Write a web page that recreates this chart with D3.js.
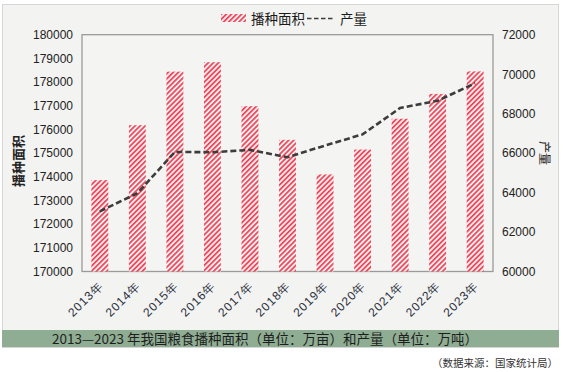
<!DOCTYPE html>
<html>
<head>
<meta charset="utf-8">
<script src="https://cdn.jsdelivr.net/npm/d3@7"></script>
<style>
  body { margin: 0; background: #fff; }
  svg text { font-family: "Liberation Sans", Arial, sans-serif; }
  .cjk { font-family: "Noto Sans CJK SC", "Noto Sans", sans-serif; }
</style>
</head>
<body>
<div id="chart"></div>
<script>
// data
const years = ['2013年','2014年','2015年','2016年','2017年','2018年','2019年','2020年','2021年','2022年','2023年']
const area = [173860, 176180, 178440, 178840, 176980, 175560, 174100, 175150, 176450, 177500, 178450]   // 万亩
const output = [63048, 63965, 66060, 66044, 66161, 65789, 66384, 66949, 68285, 68653, 69541]        // 万吨
const leftTicks = [170000,171000,172000,173000,174000,175000,176000,177000,178000,179000,180000]
const rightTicks = [60000,62000,64000,66000,68000,70000,72000]

const W = 563, H = 372
const plot = {left: 82, right: 493, top: 34.7, bottom: 271.5}

let svg = d3.select('#chart').append('svg')
    .attr('width', W)
    .attr('height', H)

// hatch pattern for bars
let defs = svg.append('defs')
let pat = defs.append('pattern')
    .attr('id', 'hatch')
    .attr('patternUnits', 'userSpaceOnUse')
    .attr('width', 3.6)
    .attr('height', 3.6)
    .attr('patternTransform', 'rotate(45)')
pat.append('rect').attr('width', 3.6).attr('height', 3.6).attr('fill', '#fbeef0')
pat.append('rect').attr('width', 1.7).attr('height', 3.6).attr('fill', '#ee4356')

// outer frame + background
svg.append('rect')
    .attr('x', 2.5).attr('y', 4.5)
    .attr('width', 556).attr('height', 343)
    .attr('fill', '#f3f3f1')
    .attr('stroke', '#d6d6d6')

// title band
svg.append('rect')
    .attr('x', 2).attr('y', 330)
    .attr('width', 557).attr('height', 17)
    .attr('fill', '#8fad93')
svg.append('text')
    .attr('class', 'cjk')
    .attr('x', 265).attr('y', 343.5)
    .attr('text-anchor', 'middle')
    .attr('font-size', 13.5)
    .attr('fill', '#1e1e1e')
    .text('2013—2023 年我国粮食播种面积（单位：万亩）和产量（单位：万吨）')

svg.append('text')
    .attr('class', 'cjk')
    .attr('x', 558).attr('y', 367)
    .attr('text-anchor', 'end')
    .attr('font-size', 10.5)
    .attr('fill', '#333')
    .text('（数据来源：国家统计局）')

// scales
let x = d3.scaleBand()
    .domain(years)
    .range([plot.left, plot.right])
    .paddingInner(0.55)
    .paddingOuter(0.25)

let yL = d3.scaleLinear().domain([170000, 180000]).range([plot.bottom, plot.top])
let yR = d3.scaleLinear().domain([60000, 72000]).range([plot.bottom, plot.top])

// plot box
svg.append('rect')
    .attr('x', plot.left).attr('y', plot.top)
    .attr('width', plot.right - plot.left)
    .attr('height', plot.bottom - plot.top)
    .attr('fill', '#f4f4f2')
    .attr('stroke', '#9a9a9a')
    .attr('stroke-width', 1.3)

// bars
svg.selectAll('rect.bar').data(area)
  .enter().append('rect')
    .attr('class', 'bar')
    .attr('x', (d, i) => x(years[i]))
    .attr('width', x.bandwidth())
    .attr('y', d => yL(d))
    .attr('height', d => yL(170000) - yL(d))
    .attr('fill', 'url(#hatch)')

// line
let line = d3.line()
    .x((d, i) => x(years[i]) + x.bandwidth() / 2)
    .y(d => yR(d))

svg.append('path')
    .datum(output)
    .attr('d', line)
    .attr('fill', 'none')
    .attr('stroke', '#3c3c3c')
    .attr('stroke-width', 2.6)
    .attr('stroke-dasharray', '6,3')

// left axis
let axL = svg.append('g')
    .attr('transform', 'translate(' + plot.left + ',0)')
    .call(d3.axisLeft(yL).tickValues(leftTicks).tickFormat(d3.format('d')).tickSize(0).tickPadding(9))
axL.select('.domain').remove()
axL.selectAll('text').attr('font-size', 12).attr('fill', '#222').attr('font-family', '"Liberation Sans", Arial, sans-serif')

// right axis
let axR = svg.append('g')
    .attr('transform', 'translate(' + plot.right + ',0)')
    .call(d3.axisRight(yR).tickValues(rightTicks).tickFormat(d3.format('d')).tickSize(0).tickPadding(9))
axR.select('.domain').remove()
axR.selectAll('text').attr('font-size', 12).attr('fill', '#222').attr('font-family', '"Liberation Sans", Arial, sans-serif')

// x axis labels, rotated
let axX = svg.append('g')
    .attr('transform', 'translate(0,' + plot.bottom + ')')
    .call(d3.axisBottom(x).tickSize(0).tickPadding(0))
axX.select('.domain').remove()
axX.selectAll('text')
    .attr('font-size', 12)
    .attr('letter-spacing', 1)
    .attr('fill', '#2a2f3c')
    .attr('font-family', '"Liberation Sans", Arial, sans-serif')
    .attr('text-anchor', 'end')
    .attr('dy', 0)
    .attr('transform', 'translate(4,15) rotate(-45)')

// axis titles
svg.append('text')
    .attr('class', 'cjk')
    .attr('transform', 'translate(23,161) rotate(-90)')
    .attr('text-anchor', 'middle')
    .attr('font-size', 13)
    .attr('font-weight', 'bold')
    .attr('fill', '#222')
    .text('播种面积')

svg.append('text')
    .attr('class', 'cjk')
    .attr('transform', 'translate(540,153) rotate(90)')
    .attr('text-anchor', 'middle')
    .attr('font-size', 12)
    .attr('fill', '#222')
    .text('产量')

// legend
let leg = svg.append('g')
leg.append('rect')
    .attr('x', 221).attr('y', 14)
    .attr('width', 25).attr('height', 8)
    .attr('fill', 'url(#hatch)')
leg.append('text')
    .attr('class', 'cjk')
    .attr('x', 251).attr('y', 23.5)
    .attr('font-size', 13.5)
    .attr('fill', '#1a1a1a')
    .text('播种面积')
leg.append('line')
    .attr('x1', 307).attr('x2', 334)
    .attr('y1', 18.5).attr('y2', 18.5)
    .attr('stroke', '#3c3c3c')
    .attr('stroke-width', 1.6)
    .attr('stroke-dasharray', '4.5,2.5')
leg.append('text')
    .attr('class', 'cjk')
    .attr('x', 340).attr('y', 23.5)
    .attr('font-size', 13.5)
    .attr('fill', '#1a1a1a')
    .text('产量')
</script>
</body>
</html>
